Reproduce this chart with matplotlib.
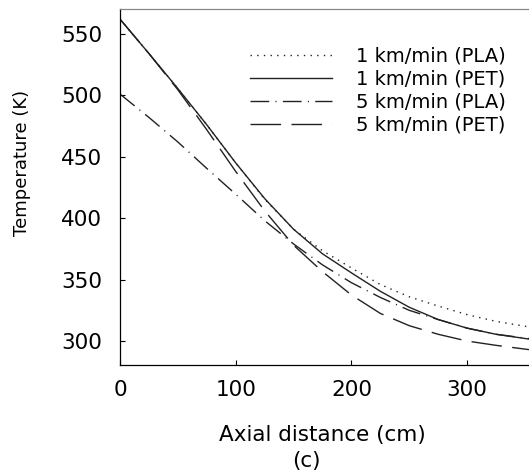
import matplotlib
matplotlib.use("Agg")
import matplotlib.pyplot as plt

# axial distance (cm) at which the curves were read
distance = [0, 25, 50, 75, 100, 125, 150, 175, 200, 225, 250, 275, 300, 325, 353.5]

# temperature (K) for each case
t_1_pla = [562, 534, 505.5, 476, 445, 415.5, 391, 373.5, 359.5, 346, 336, 328.5, 321.5, 316, 311.5]
t_1_pet = [562, 534, 505.5, 476, 445, 416, 391, 371, 355.5, 340.5, 327.5, 317.5, 310.5, 305.5, 301.6]
t_5_pla = [501, 482, 462, 440.5, 419.5, 398, 379, 362, 347.5, 335.5, 325, 317.5, 310.5, 305.5, 302]
t_5_pet = [562, 534, 504.5, 472, 438, 406, 378, 356.5, 337.5, 322.5, 312.5, 305.5, 300, 296.5, 293]

labels = ["1 km/min (PLA)", "1 km/min (PET)", "5 km/min (PLA)", "5 km/min (PET)"]

x_ticks = [0, 100, 200, 300]
y_ticks = [300, 350, 400, 450, 500, 550]

plt.rcParams["font.family"] = ["DejaVu Sans"]

fig = plt.figure(figsize=(5.29, 4.73), dpi=100)
# axes box in pixels: left 120, right beyond 529, top ~9, bottom 365
ax = fig.add_axes([120 / 529, 108 / 473, 409 / 529, 355.7 / 473])

col = "#222222"
ax.plot(distance, t_1_pla, color=col, lw=1.0, dashes=(1.0, 3.8), label=labels[0])
ax.plot(distance, t_1_pet, color=col, lw=1.0, label=labels[1])
ax.plot(distance, t_5_pla, color=col, lw=1.0, dashes=(13.5, 4.5, 0.8, 4.5), label=labels[2])
ax.plot(distance, t_5_pet, color=col, lw=1.0, dashes=(22, 7.5), label=labels[3])

ax.set_xlim(0, 353.5)
ax.set_ylim(280.5, 570)
ax.set_xticks(x_ticks)
ax.set_yticks(y_ticks)

ax.spines["right"].set_visible(False)
ax.spines["top"].set_color("#888888")
ax.spines["top"].set_linewidth(0.9)
for s in ("left", "bottom"):
    ax.spines[s].set_color("black")
    ax.spines[s].set_linewidth(0.9)

ax.tick_params(axis="both", direction="in", length=3.5, width=0.8,
               labelsize=15.5, top=False, right=False)
ax.tick_params(axis="y", pad=13)
ax.tick_params(axis="x", pad=11)

ax.set_xlabel("Axial distance (cm)", fontsize=15.5, va="center")
ax.xaxis.set_label_coords((322 - 120) / 409, -(435 - 365) / 355.7)
ax.set_ylabel("Temperature (K)", fontsize=13, va="center")
ax.yaxis.set_label_coords((22 - 120) / 409, (365 - 162.5) / 355.7)

fig.text(306 / 529, (473 - 461) / 473, "(c)", fontsize=15.5, ha="center", va="center")

ax.legend(loc="upper left", bbox_to_anchor=((250 - 120) / 409, (365 - 47) / 355.7),
          frameon=False, fontsize=14, handlelength=4.2, handletextpad=1.25,
          labelspacing=0.2, borderpad=0, borderaxespad=0)

fig.savefig("out.png", dpi=100)
